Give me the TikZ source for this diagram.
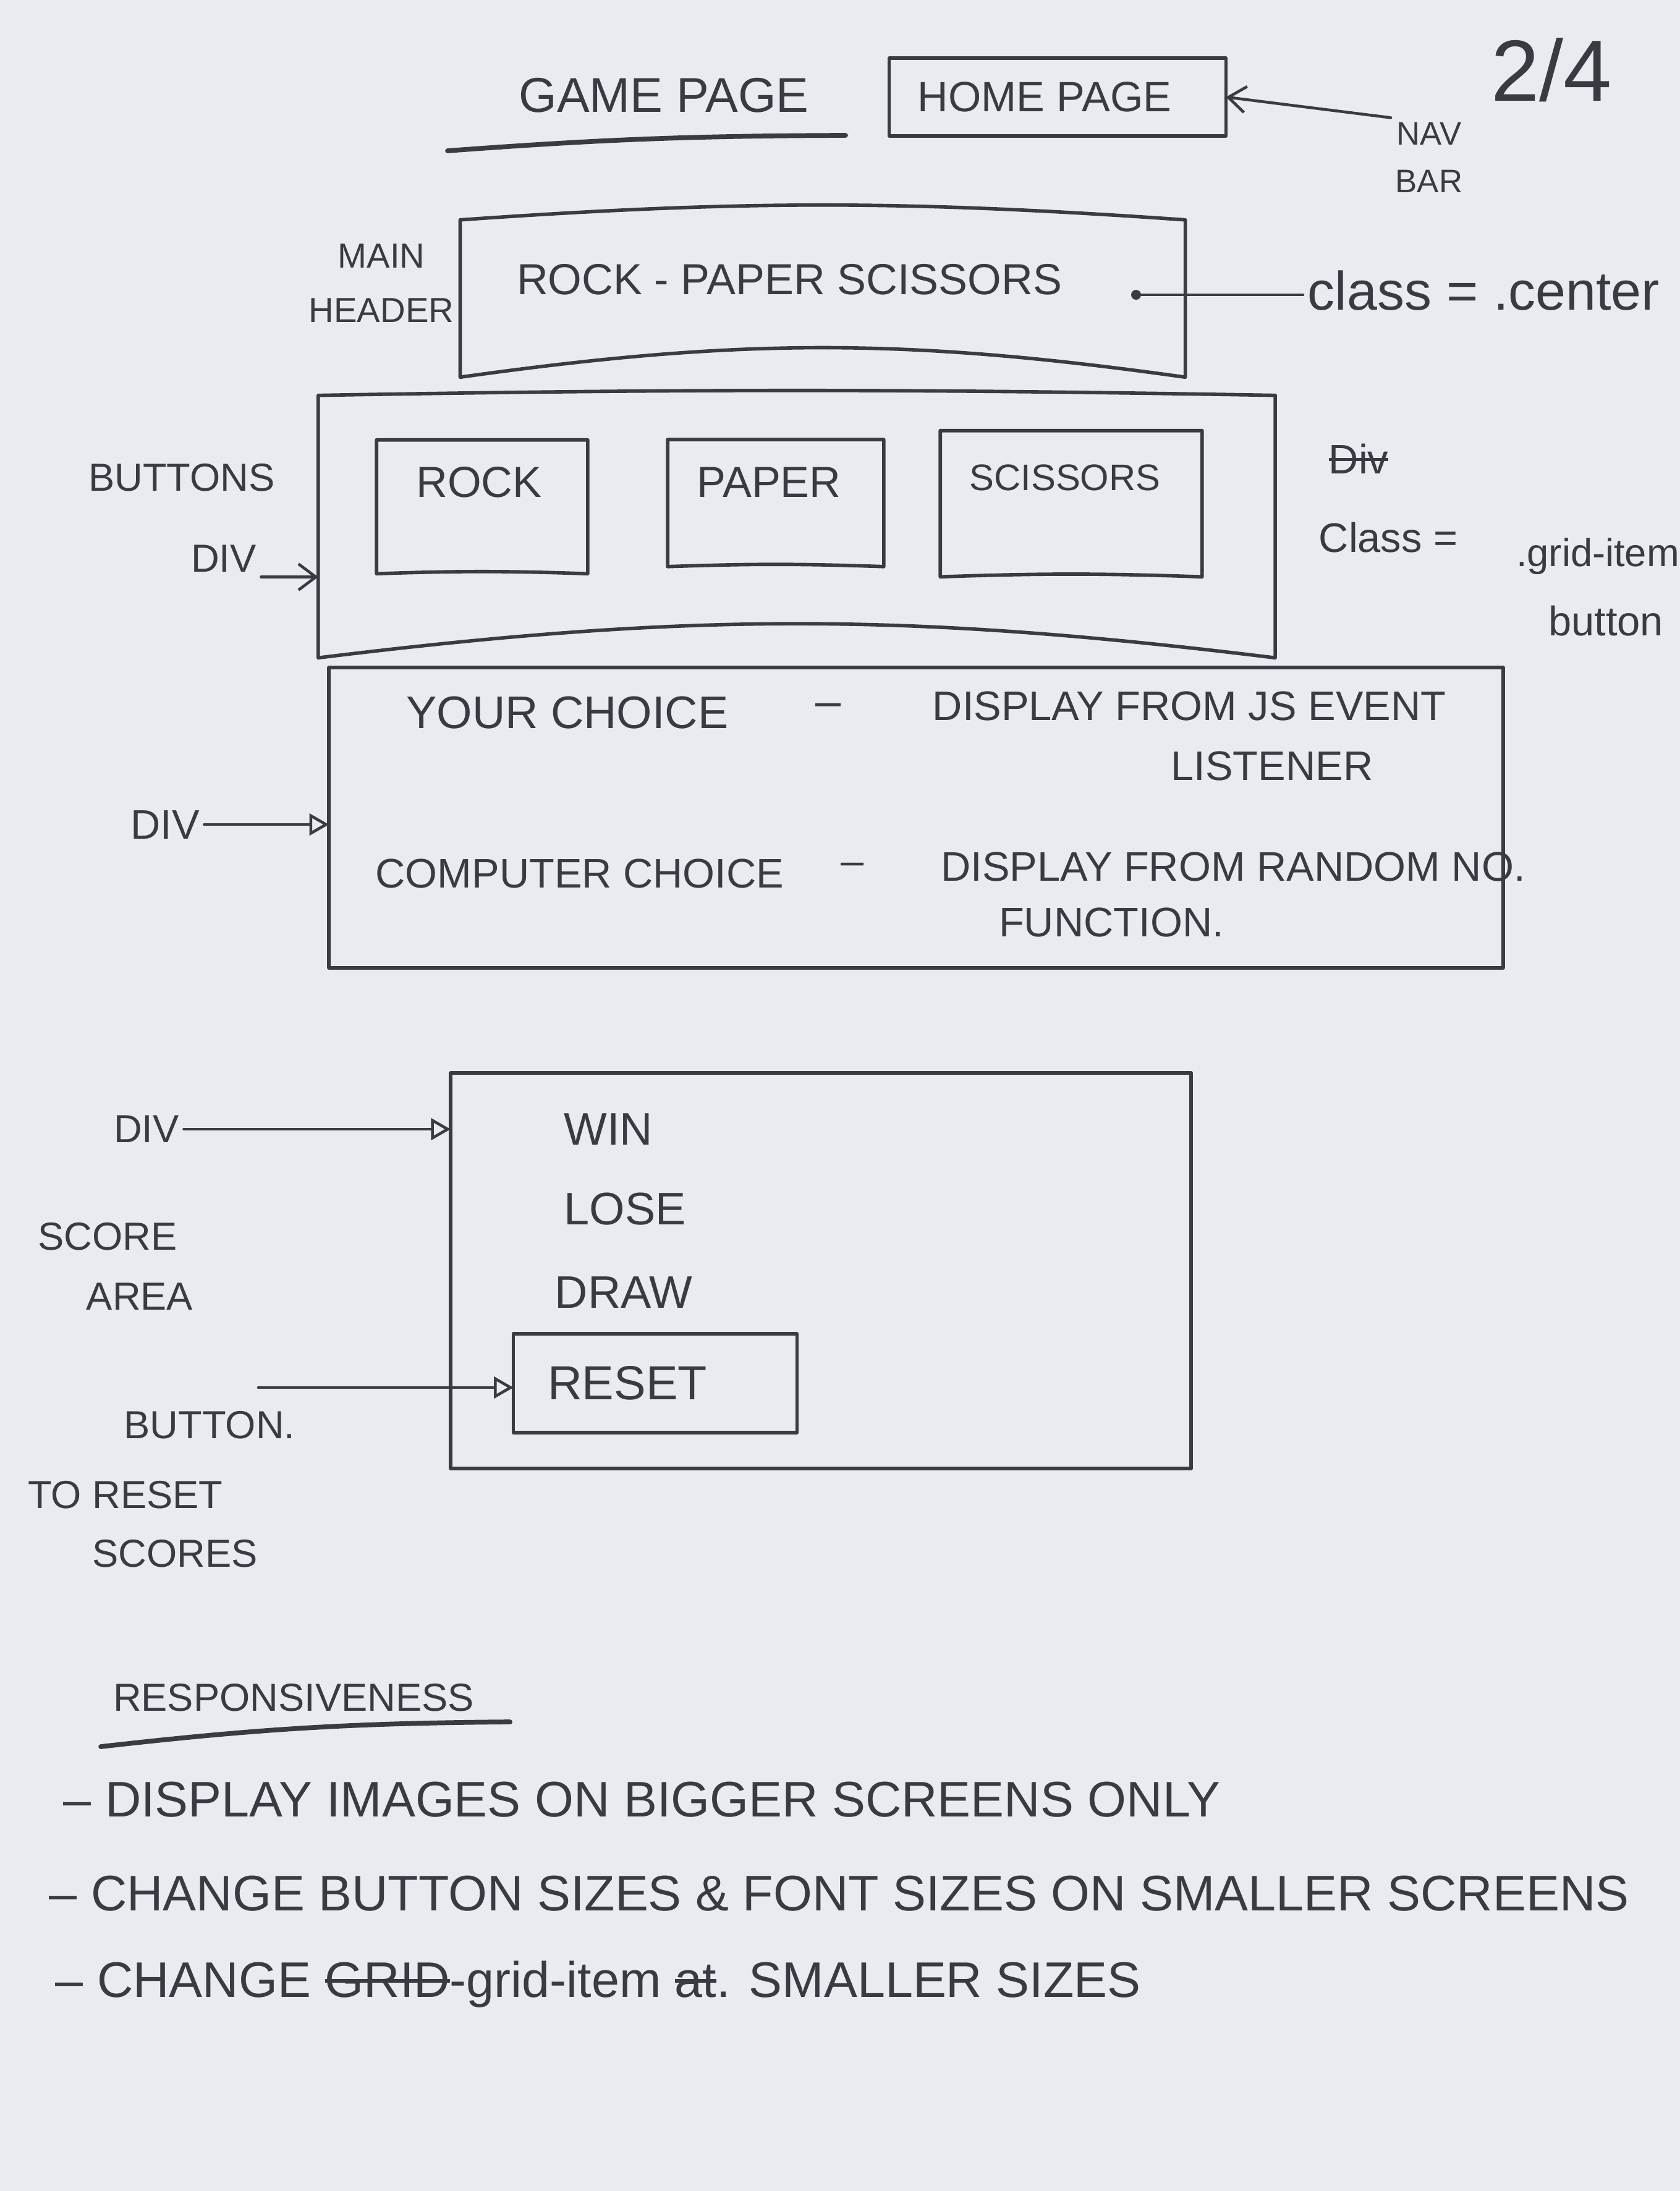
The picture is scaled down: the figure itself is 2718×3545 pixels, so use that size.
\documentclass[tikz,border=0pt]{standalone}
\usepackage{fontspec}
\setmainfont{Liberation Sans}
\usetikzlibrary{arrows.meta,calc}
\definecolor{paper}{RGB}{233,235,240}
\definecolor{ink}{RGB}{58,58,66}
\newcommand\hsz[1]{\fontsize{#1}{#1}\selectfont}
\newcommand\strk[1]{\setbox0=\hbox{#1}\rlap{\rule[0.3em]{\wd0}{1.6pt}}\box0}
\newcommand\sketchbox[3]{\draw[pen] (#1.north west) to[bend left=#2] (#1.north east) -- (#1.south east) to[bend right=#3] (#1.south west) -- cycle;}
\begin{document}
\begin{tikzpicture}[x=0.01cm,y=-0.01cm,
  pen/.style={draw=ink,line width=1.6pt,line cap=round,line join=round},
  frame/.style={draw=none,inner sep=0pt,rectangle},
  txt/.style={text=ink,inner sep=2pt},
  arrB/.style={draw=ink,line width=1.3pt,line cap=round,-{Straight Barb[length=8pt,width=12pt]}},
  arrT/.style={draw=ink,line width=1.3pt,line cap=round,-{Triangle[open,length=9pt,width=10pt,line width=1.3pt]}}]
\fill[paper] (0,0) rectangle (2718,3545);
\useasboundingbox (0,0) rectangle (2718,3545);

% ---- top line
\node[txt,font=\hsz{22.5}] (gp) at (1074,154) {GAME PAGE};
\coordinate (gpu1) at (724,244);
\coordinate (gpu2) at (1368,219);
\draw[pen,line width=2.2pt] (gpu1) to[bend left=2] (gpu2);
\node[frame,minimum width=5.43cm,minimum height=1.24cm] (hp) at (1711,157) {};
\sketchbox{hp}{0}{0}
\node[txt,font=\hsz{19.5}] (hpt) at (1690,157) {HOME PAGE};
\node[txt,align=center,font=\fontsize{15}{22}\selectfont] (nav) at (2312,255) {NAV\\BAR};
\draw[arrB] (nav.north west) -- (hp.east);
\node[txt,font=\hsz{40}] (pg) at (2510,113) {2/4};

% ---- main header
\node[frame,minimum width=11.71cm,minimum height=2.53cm] (mh) at (1331,483) {};
\sketchbox{mh}{4}{8}
\node[txt,font=\hsz{20}] (mht) at (1277,452) {ROCK - PAPER SCISSORS};
\node[txt,align=center,font=\fontsize{16}{25}\selectfont] (mhl) at (617,458) {MAIN\\HEADER};
\coordinate (dot) at (1838,477);
\fill[ink] (dot) circle (8);
\node[txt,font=\hsz{25},anchor=west] (cls) at (2108,470) {class = .center};
\draw[pen,line width=1.3pt] (dot) -- (dot -| cls.west);

% ---- buttons div
\node[frame,minimum width=15.46cm,minimum height=4.23cm] (bd) at (1289,852) {};
\sketchbox{bd}{1}{7}
\node[frame,minimum width=3.40cm,minimum height=2.15cm] (rock) at (780,820) {};
\sketchbox{rock}{0}{2}
\node[txt,font=\hsz{20}] (rockt) at (775,780) {ROCK};
\node[frame,minimum width=3.48cm,minimum height=2.04cm] (paperb) at (1255,814) {};
\sketchbox{paperb}{0}{2}
\node[txt,font=\hsz{20}] (papert) at (1244,780) {PAPER};
\node[frame,minimum width=4.22cm,minimum height=2.35cm] (sciss) at (1733,815) {};
\sketchbox{sciss}{0}{2}
\node[txt,font=\hsz{17}] (scisst) at (1723,773) {SCISSORS};
\node[txt,font=\hsz{18}] (butl) at (294,773) {BUTTONS};
\node[txt,font=\hsz{18}] (bdl) at (362,904) {DIV};
\draw[arrB] (bdl.south east) -- (bdl.south east -| bd.west);
\node[txt,font=\hsz{19}] (divx) at (2198,742) {\strk{Div}};
\node[txt,font=\hsz{19},anchor=west] (gcls) at (2126,870) {Class =};
\node[txt,font=\hsz{18},inner sep=1pt] (gitem) at (2585,900) {.grid-item};
\node[txt,font=\hsz{19},inner sep=1pt] (gbtn) at (2598,1005) {button};

% ---- choice div
\node[frame,minimum width=18.97cm,minimum height=4.84cm] (cd) at (1482,1323) {};
\sketchbox{cd}{0}{0}
\node[txt,font=\hsz{21}] (yc) at (918,1153) {YOUR CHOICE};
\node[txt,font=\hsz{21}] (d1) at (1340,1149) {–};
\node[txt,font=\hsz{19}] (js) at (1924,1142) {DISPLAY FROM JS EVENT};
\node[txt,font=\hsz{19}] (lis) at (2058,1239) {LISTENER};
\node[txt,font=\hsz{19}] (cc) at (938,1413) {COMPUTER CHOICE};
\node[txt,font=\hsz{19}] (d2) at (1379,1406) {–};
\node[txt,font=\hsz{19}] (rnd) at (1995,1402) {DISPLAY FROM RANDOM NO.};
\node[txt,font=\hsz{19}] (fn) at (1798,1492) {FUNCTION.};
\node[txt,font=\hsz{19}] (cdl) at (267,1334) {DIV};
\draw[arrT] (cdl.east) -- (cdl.east -| cd.west);

% ---- score div
\node[frame,minimum width=11.96cm,minimum height=6.38cm] (sd) at (1328,2056) {};
\sketchbox{sd}{0}{0}
\node[txt,font=\hsz{21},anchor=west] (win) at (905,1827) {WIN};
\node[txt,font=\hsz{21},anchor=west] (lose) at (905,1956) {LOSE};
\node[txt,font=\hsz{21},anchor=west] (drw) at (890,2091) {DRAW};
\node[frame,minimum width=4.57cm,minimum height=1.59cm] (rs) at (1060,2238) {};
\sketchbox{rs}{0}{0}
\node[txt,font=\hsz{22}] (rst) at (1015,2238) {RESET};
\node[txt,font=\hsz{18}] (sdl) at (237,1827) {DIV};
\draw[arrT] (sdl.east) -- (sdl.east -| sd.west);
\node[txt,font=\hsz{18}] (sa1) at (174,2001) {SCORE};
\node[txt,font=\hsz{18}] (sa2) at (226,2098) {AREA};
\node[txt,font=\hsz{18}] (btn1) at (339,2306) {BUTTON.};
\node[txt,font=\hsz{18}] (btn2) at (203,2419) {TO RESET};
\node[txt,font=\hsz{18}] (btn3) at (283,2514) {SCORES};
\coordinate (bstart) at (418,2245);
\draw[arrT] (bstart) -- (bstart -| rs.west);

% ---- responsiveness
\node[txt,font=\hsz{18}] (resp) at (475,2747) {RESPONSIVENESS};
\coordinate (ru1) at (163,2826);
\coordinate (ru2) at (825,2786);
\draw[pen,line width=2.2pt] (ru1) to[bend left=3] (ru2);
\node[txt,font=\hsz{23},anchor=west] (l1) at (95,2912) {– DISPLAY IMAGES ON BIGGER SCREENS ONLY};
\node[txt,font=\hsz{23},anchor=west] (l2) at (72,3064) {– CHANGE BUTTON SIZES \& FONT SIZES ON SMALLER SCREENS};
\node[txt,font=\hsz{23},anchor=west] (l3) at (82,3211) {– CHANGE \strk{GRID}-grid-item \strk{at}. SMALLER SIZES};
\end{tikzpicture}
\end{document}
